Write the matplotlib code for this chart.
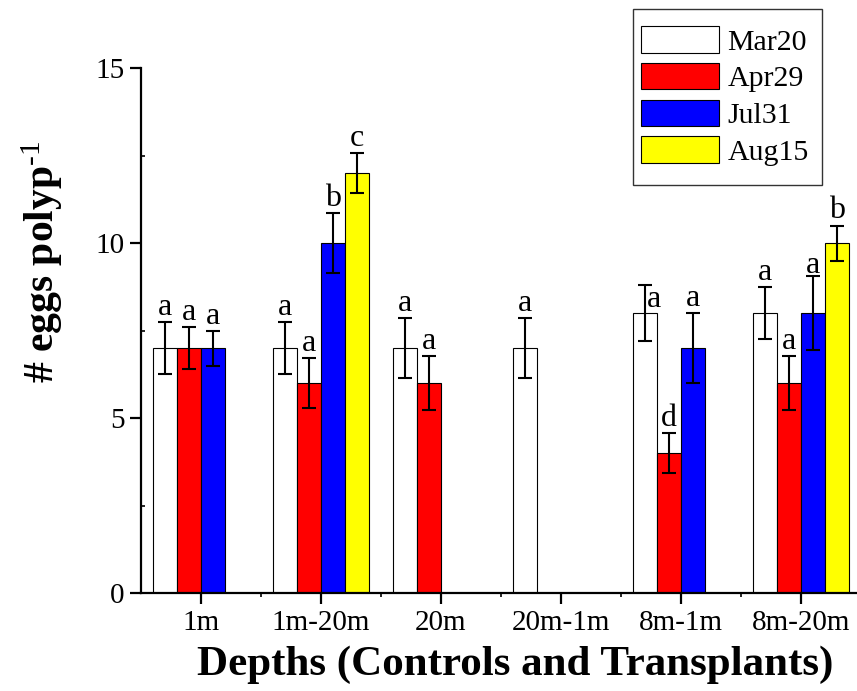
import numpy as np
import matplotlib
matplotlib.use("Agg")
import matplotlib.pyplot as plt
from matplotlib.patches import Rectangle
from matplotlib.ticker import MultipleLocator, FixedLocator

plt.rcParams["font.family"] = ["Liberation Serif", "DejaVu Serif"]
plt.rcParams["mathtext.fontset"] = "custom"
plt.rcParams["mathtext.rm"] = "Liberation Serif"
plt.rcParams["mathtext.it"] = "Liberation Serif"
plt.rcParams["mathtext.bf"] = "Liberation Serif:bold"

# Depth treatments (controls and transplants)
categories = ["1m", "1m-20m", "20m", "20m-1m", "8m-1m", "8m-20m"]
series_names = ["Mar20", "Apr29", "Jul31", "Aug15"]
series_colors = ["#ffffff", "#ff0000", "#0000ff", "#ffff00"]

nan = np.nan
mar20 = [7, 7, 7, 7, 8, 8]
apr29 = [7, 6, 6, nan, 4, 6]
jul31 = [7, 10, nan, nan, 7, 8]
aug15 = [nan, 12, nan, nan, nan, 10]

mar20_err = [0.75, 0.75, 0.85, 0.85, 0.79, 0.75]
apr29_err = [0.60, 0.72, 0.76, nan, 0.58, 0.76]
jul31_err = [0.50, 0.87, nan, nan, 1.00, 1.05]
aug15_err = [nan, 0.58, nan, nan, nan, 0.50]

# Significance letters above each bar
mar20_sig = ["a", "a", "a", "a", "a", "a"]
apr29_sig = ["a", "a", "a", "", "d", "a"]
jul31_sig = ["a", "b", "", "", "a", "a"]
aug15_sig = ["", "c", "", "", "", "b"]

values = [mar20, apr29, jul31, aug15]
errors = [mar20_err, apr29_err, jul31_err, aug15_err]
letters = [mar20_sig, apr29_sig, jul31_sig, aug15_sig]

W, H = 857, 691
fig = plt.figure(figsize=(W / 100, H / 100), dpi=100)
ax = fig.add_axes([141 / W, 98 / H, 720 / W, 525 / H])

x = np.arange(len(categories))
width = 0.2
offsets = [-0.3, -0.1, 0.1, 0.3]

for k in range(4):
    pos = x + offsets[k]
    vals = np.array(values[k], dtype=float)
    errs = np.array(errors[k], dtype=float)
    ax.bar(pos, vals, width=width, color=series_colors[k], edgecolor="black",
           linewidth=0.8, label=series_names[k], zorder=2)
    ax.errorbar(pos, vals, yerr=errs, fmt="none", ecolor="black",
                elinewidth=1.5, capsize=5, capthick=1.5, zorder=3)
    for i in range(len(categories)):
        if letters[k][i] == "" or np.isnan(vals[i]):
            continue
        lx, ly = pos[i], vals[i] + errs[i] + 0.2
        # letters nudged where they would collide with a neighbour
        if k == 0 and i == 4:
            lx, ly = pos[i] + 0.075, vals[i] + 0.17
        if k == 2 and i == 5:
            ly = vals[i] + errs[i] + 0.08
        ax.text(lx, ly, letters[k][i], ha="center", va="baseline",
                fontsize=23, zorder=4)

ax.set_xlim(-0.5, 5.5)
ax.set_ylim(0, 15)
ax.set_xticks(x)
ax.set_xticklabels(categories)
ax.xaxis.set_minor_locator(FixedLocator(x[:-1] + 0.5))
ax.yaxis.set_major_locator(MultipleLocator(5))
ax.yaxis.set_minor_locator(MultipleLocator(2.5))

for side in ["top", "right"]:
    ax.spines[side].set_visible(False)
for side in ["left", "bottom"]:
    ax.spines[side].set_linewidth(1.6)

ax.tick_params(axis="both", which="major", direction="out", length=8,
               width=1.6, labelsize=21, pad=4)
ax.tick_params(axis="y", which="minor", direction="in", length=3, width=1.2)
ax.tick_params(axis="x", which="minor", direction="out", length=3, width=1.2)

fig.text(515 / W, 1 - 665 / H, "Depths (Controls and Transplants)",
         ha="center", va="center", fontsize=31, fontweight="bold")
fig.text(42 / W, 1 - 262 / H, "# eggs polyp$^{\u2010\\mathrm{1}}$",
         rotation=90, ha="center", va="center", fontsize=30,
         fontweight="bold")

# Legend entries without their own frame; a box with wider vertical
# padding is drawn around them afterwards.
leg = ax.legend(loc="upper left", bbox_to_anchor=(641 / W, 1 - 26 / H),
                bbox_transform=fig.transFigure, fontsize=21.5, frameon=False,
                handlelength=2.6, handleheight=1.0, labelspacing=0.24,
                handletextpad=0.3, borderpad=0.0, borderaxespad=0)
fig.canvas.draw()
bb = leg.get_window_extent()
pad_l, pad_r, pad_t, pad_b = 8, 13, 17, 19
fig.patches.append(Rectangle(((bb.x0 - pad_l) / W, (bb.y0 - pad_b) / H),
                             (bb.width + pad_l + pad_r) / W,
                             (bb.height + pad_t + pad_b) / H,
                             transform=fig.transFigure, fill=False,
                             edgecolor="#333333", linewidth=1.0, zorder=5))

fig.savefig("out.png", dpi=100)
